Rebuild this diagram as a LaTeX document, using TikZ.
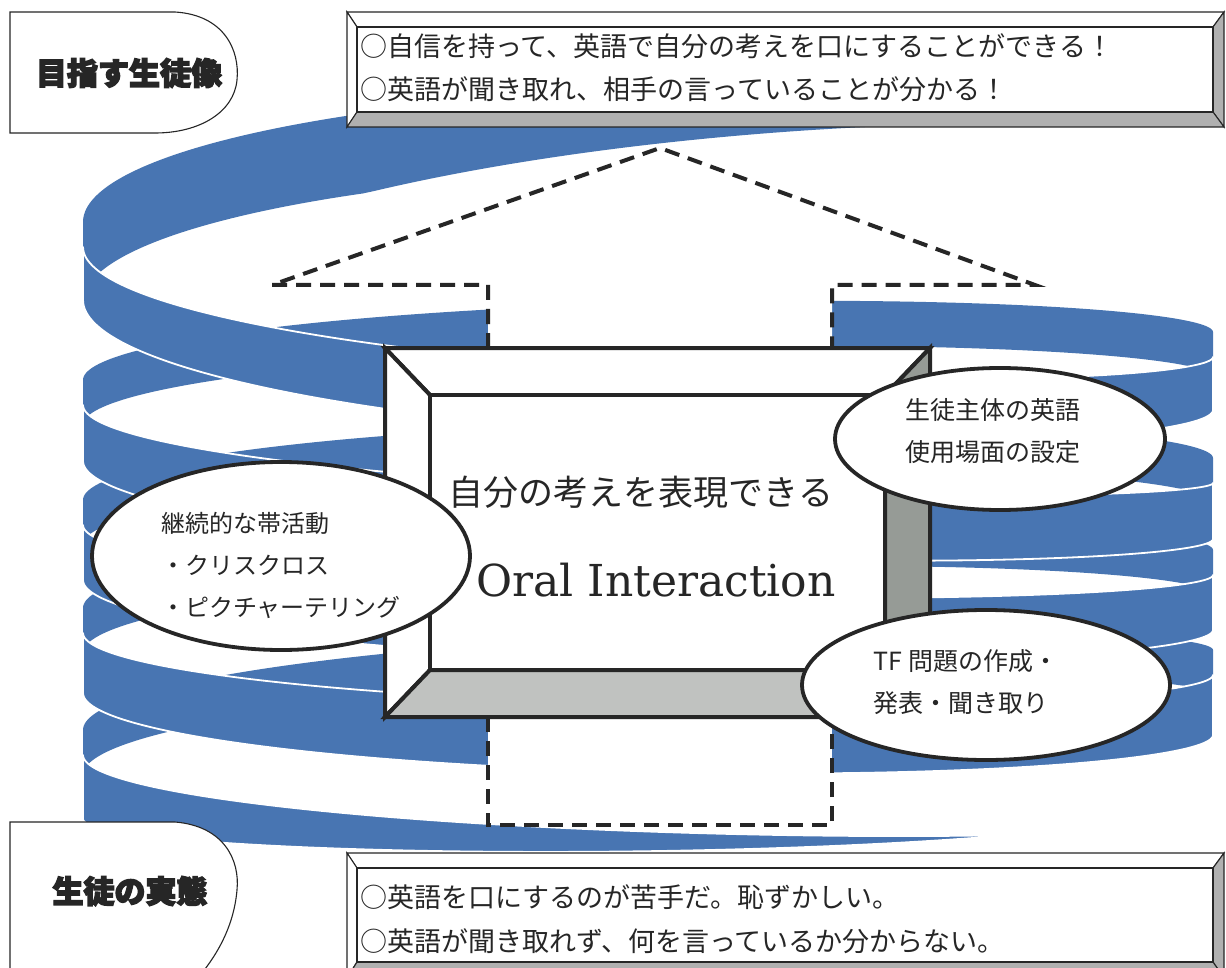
\documentclass[tikz,border=0pt]{standalone}
\usepackage{fontspec}
\newfontfamily\jp{Noto Sans CJK JP}
\newfontfamily\serifdv{DejaVu Serif}
\usetikzlibrary{shapes.geometric}
\definecolor{rib}{RGB}{72,117,178}
\definecolor{ink}{RGB}{38,38,38}
\definecolor{bevA}{RGB}{176,176,176}
\definecolor{bevC}{RGB}{150,155,150}
\definecolor{bevD}{RGB}{192,194,192}
\newcommand\heavytext[1]{\special{pdf:literal direct 2 Tr 1.4 w}#1\special{pdf:literal direct 0 Tr}}
\newcommand\band[3]{\fill[#1] plot[domain=#2:#3,samples=120,variable=\t] ({hx(\t)},{tp(\t)}) -- plot[domain=#2:#3,samples=120,variable=\t] ({hx(#2+#3-\t)},{tp(#2+#3-\t)+wd(#2+#3-\t)}) -- cycle;}
\newcommand\bevelbox[8]{%
 \path #1 coordinate (#6-o1) #2 coordinate (#6-o3) #3 coordinate (#6-i1) #4 coordinate (#6-i3);
 \coordinate (#6-o2) at (#6-o3 |- #6-o1);
 \coordinate (#6-o4) at (#6-o1 |- #6-o3);
 \coordinate (#6-i2) at (#6-i3 |- #6-i1);
 \coordinate (#6-i4) at (#6-i1 |- #6-i3);
 \filldraw[#5,fill=white] (#6-o1) -- (#6-o2) -- (#6-i2) -- (#6-i1) -- cycle;
 \filldraw[#5,fill=white] (#6-o1) -- (#6-i1) -- (#6-i4) -- (#6-o4) -- cycle;
 \filldraw[#5,fill=#7] (#6-o2) -- (#6-o3) -- (#6-i3) -- (#6-i2) -- cycle;
 \filldraw[#5,fill=#8] (#6-o4) -- (#6-i4) -- (#6-i3) -- (#6-o3) -- cycle;
 \filldraw[#5,fill=white] (#6-i1) rectangle (#6-i3);}
\begin{document}
\begin{tikzpicture}[x=1pt,y=-1pt,
  declare function={hx(\t)=648-565*cos(\t);},
  backband/.style={fill=rib},
  frontband/.style={fill=rib,draw=white,line width=1.8pt,line join=round},
  thinline/.style={draw=black!85,line width=1.1pt},
  bevelline/.style={draw=ink,line width=4pt,line join=miter},
  dashline/.style={draw=ink,line width=4pt,dash pattern=on 15pt off 9pt},
  bubble/.style={ellipse,draw=ink,line width=3.8pt,fill=white,inner sep=0pt},
  jptext/.style={font=\jp\fontsize{27}{27}\selectfont,text=black!85,inner sep=0pt},
  eltext/.style={font=\jp\fontsize{24}{42}\selectfont,text=black!85,inner sep=0pt,align=left},
  labeltext/.style={font=\jp\bfseries\fontsize{31}{31}\selectfont,text=ink,inner sep=0pt}]
\useasboundingbox (0,0) rectangle (1226,968);
\fill[white] (0,0) rectangle (1226,968);
% ---- spiral ribbon: back parts
\begin{scope}[declare function={tp(\t)=222+0.3*(\t-360)+105*sin(\t); wd(\t)=80*min(1,max(0,(\t-205)/95));}]
\band{backband}{215}{360}
\end{scope}
\begin{scope}[declare function={tp(\t)=332+(\t-180)/180*48+53*sin(\t); wd(\t)=45;}]
\band{backband}{180}{360}
\end{scope}
\begin{scope}[declare function={tp(\t)=458+(\t-180)/180*42+56*sin(\t); wd(\t)=45;}]
\band{backband}{180}{360}
\end{scope}
\begin{scope}[declare function={tp(\t)=550+(\t-180)/180*58+55*sin(\t); wd(\t)=45;}]
\band{backband}{180}{360}
\end{scope}
\begin{scope}[declare function={tp(\t)=650+(\t-180)/180*80+55*sin(\t); wd(\t)=45;}]
\band{backband}{180}{360}
\end{scope}
% ---- front parts
\begin{scope}[declare function={tp(\t)=247+\t/180*110+68*sin(\t); wd(\t)=53+12*sin(\t);}]
\band{frontband}{0}{180}
\end{scope}
\begin{scope}[declare function={tp(\t)=405+\t/180*78+45*sin(\t); wd(\t)=56+10*sin(\t);}]
\band{frontband}{0}{180}
\end{scope}
\begin{scope}[declare function={tp(\t)=525+\t/180*50+45*sin(\t); wd(\t)=55+10*sin(\t);}]
\band{frontband}{0}{180}
\end{scope}
\begin{scope}[declare function={tp(\t)=633+\t/180*42+50*sin(\t); wd(\t)=60+8*sin(\t);}]
\band{frontband}{0}{180}
\end{scope}
\begin{scope}[declare function={tp(\t)=755+0.35*\t+45*sin(\t); wd(\t)=64*(1-\t/130);}]
\band{frontband}{0}{128}
\end{scope}
% ---- dashed zoom outline
\coordinate (apex) at (660,148);
\coordinate (hl) at (272,285);
\coordinate (hr) at (1035,285);
\coordinate (l1) at (488,285);
\coordinate (l2) at (488,348);
\coordinate (r1) at (832,285);
\coordinate (r2) at (832,348);
\coordinate (b1) at (488,717);
\coordinate (b2) at (488,825);
\coordinate (b3) at (832,825);
\coordinate (b4) at (832,717);
\fill[white] (hl) -- (apex) -- (hr) -- (r1) -- (r2) -- (l2) -- (l1) -- cycle;
\fill[white] (b1) rectangle (b3);
\draw[dashline] (l2) -- (l1) -- (hl) -- (apex) -- (hr) -- (r1) -- (r2);
\draw[dashline] (b1) -- (b2) -- (b3) -- (b4);
% ---- label boxes
\draw[thinline,fill=white] (10,12) -- (175,12) .. controls (224,15) and (240,50) .. (237,80) .. controls (234,112) and (200,133) .. (155,133) -- (10,133) -- cycle;
\node[labeltext] (goal) at (129,73) {\heavytext{目指す生徒像}};
\draw[thinline,fill=white] (10,980) -- (10,822) -- (175,822) .. controls (224,826) and (240,860) .. (237,890) .. controls (234,925) and (218,955) .. (196,980) -- cycle;
\node[labeltext] (real) at (130,891) {\heavytext{生徒の実態}};
% ---- text boxes
\bevelbox{(347,12)}{(1224,127)}{(357,27)}{(1213,112)}{thinline}{gbox}{bevA}{bevA}
\node[jptext,anchor=west] (g1) at (360,46) {○自信を持って、英語で自分の考えを口にすることができる！};
\node[jptext,anchor=west] (g2) at (360,89) {○英語が聞き取れ、相手の言っていることが分かる！};
\bevelbox{(347,853)}{(1224,978)}{(357,868)}{(1213,962)}{thinline}{rbox}{bevA}{bevA}
\node[jptext,anchor=west] (r1t) at (360,897) {○英語を口にするのが苦手だ。恥ずかしい。};
\node[jptext,anchor=west] (r2t) at (360,941) {○英語が聞き取れず、何を言っているか分からない。};
% ---- central box
\bevelbox{(385,348)}{(930,717)}{(430,395)}{(885,670)}{bevelline}{cbox}{bevC}{bevD}
\node[font=\jp\fontsize{35}{35}\selectfont,text=black!85,inner sep=0pt] (m1) at (641,492) {自分の考えを表現できる};
\node[font=\serifdv\fontsize{44}{44}\selectfont,text=black!85,inner sep=0pt] (m2) at (656,580) {Oral Interaction};
% ---- bubbles
\node[bubble,minimum width=378pt,minimum height=188pt] (e1) at (281,556) {};
\node[eltext] (t1) at (281,565) {継続的な帯活動\\・クリスクロス\\・ピクチャーテリング};
\node[bubble,minimum width=330pt,minimum height=142pt] (e2) at (1000,439) {};
\node[eltext,font=\jp\fontsize{25}{42}\selectfont] (t2) at (993,431) {生徒主体の英語\\使用場面の設定};
\node[bubble,minimum width=368pt,minimum height=150pt] (e3) at (986,685) {};
\node[eltext,font=\jp\fontsize{25}{42}\selectfont] (t3) at (966,682) {TF 問題の作成・\\発表・聞き取り};
\end{tikzpicture}
\end{document}
